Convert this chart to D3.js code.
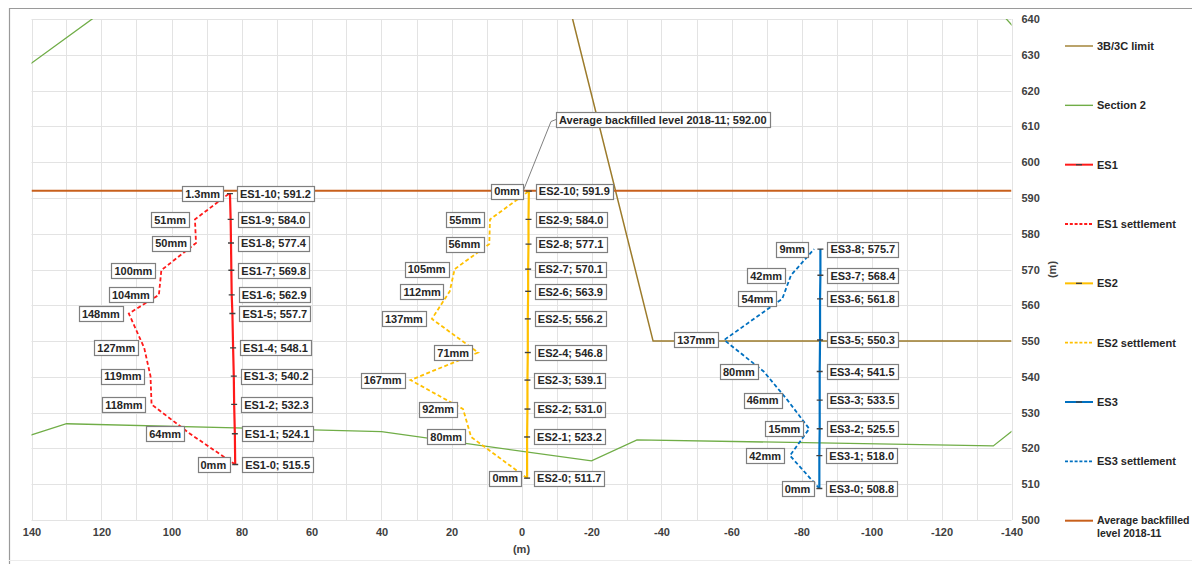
<!DOCTYPE html>
<html><head><meta charset="utf-8">
<script src="https://cdn.jsdelivr.net/npm/d3@7"></script>
<style>
body{margin:0;background:#fff;}
svg text{font-family:"Liberation Sans",Arial,sans-serif;font-weight:bold;}
</style></head><body>
<svg id="chart" width="1192" height="564"></svg>
<script>
// Extensometer ES1: node elevations (m), horizontal positions (m), settlements (mm)
const es1Elev = [515.5, 524.1, 532.3, 540.2, 548.1, 557.7, 562.9, 569.8, 577.4, 584.0, 591.2];
const es1X = [81.8, 81.9, 82.1, 82.2, 82.4, 82.6, 82.8, 82.9, 83.0, 83.1, 83.3];
const es1Settle = [0, 64, 118, 119, 127, 148, 104, 100, 50, 51, 1.3];

// Extensometer ES2
const es2Elev = [511.7, 523.2, 531.0, 539.1, 546.8, 556.2, 563.9, 570.1, 577.1, 584.0, 591.9];
const es2X = [-1.6, -1.6, -1.7, -1.7, -1.8, -1.8, -1.9, -1.9, -2.0, -2.0, -2.1];
const es2Settle = [0, 80, 92, 167, 71, 137, 112, 105, 56, 55, 0];

// Extensometer ES3
const es3Elev = [508.8, 518.0, 525.5, 533.5, 541.5, 550.3, 561.8, 568.4, 575.7];
const es3X = [-85.1, -85.1, -85.2, -85.2, -85.2, -85.3, -85.3, -85.4, -85.4];
const es3Settle = [0, 42, 15, 46, 80, 137, 54, 42, 9];

// Section profiles [x (m), elevation (m)]
const limit3B3C = [[-14.6, 640], [-37.6, 550], [-140, 550]];
const section2 = [[119, 642.6], [140.4, 627.4], [146, 623], [146, 521.5], [140, 523.8], [130, 526.9],
  [40, 524.7], [-20, 516.5], [-33, 522.4], [-134.8, 520.7], [-140, 524.7], [-146, 529],
  [-146, 632], [-136, 642.7]];
const backfillLevel = 592.0;
const backfillLabelX = -0.5;

// Axis ticks
const xTicks = [140, 120, 100, 80, 60, 40, 20, 0, -20, -40, -60, -80, -100, -120, -140];
const yTicks = [500, 510, 520, 530, 540, 550, 560, 570, 580, 590, 600, 610, 620, 630, 640];

// Legend entries
const legendNames = ["3B/3C limit", "Section 2", "ES1", "ES1 settlement", "ES2", "ES2 settlement",
  "ES3", "ES3 settlement", "Average backfilled level 2018-11"];

// settlement drawn as horizontal offset: metres of chart per mm
const settleScale = 0.2;

const C = {
  limit: "#9c7b2b", section: "#70ad47", es1: "#ff1a1a", es2: "#ffc000", es3: "#0070c0",
  backfill: "#c8601c", grid: "#e3e3e3", tick: "#404040", label: "#262626", box: "#7f7f7f"
};

const svg = d3.select("#chart");
const x = d3.scaleLinear().domain([140, -140]).range([31.5, 1011.5]);
const y = d3.scaleLinear().domain([500, 640]).range([520, 19]);

// outer frame
svg.append("path").attr("d", "M9.5,564 V8.5 H1192").attr("fill", "none").attr("stroke", "#9a9a9a").attr("stroke-width", 1.2);
svg.append("line").attr("x1", 9).attr("x2", 1192).attr("y1", 560.5).attr("y2", 560.5).attr("stroke", "#ececec");

svg.append("clipPath").attr("id", "plot").append("rect")
  .attr("x", x(140)).attr("y", y(640)).attr("width", x(-140) - x(140)).attr("height", y(500) - y(640));

// grid
const grid = svg.append("g");
grid.selectAll("line.v").data(d3.range(-140, 141, 10)).join("line")
  .attr("x1", d => Math.round(x(d)) + 0.5).attr("x2", d => Math.round(x(d)) + 0.5)
  .attr("y1", y(640)).attr("y2", y(500)).attr("stroke", C.grid);
grid.selectAll("line.h").data(yTicks).join("line")
  .attr("y1", d => Math.round(y(d)) + 0.5).attr("y2", d => Math.round(y(d)) + 0.5)
  .attr("x1", x(140)).attr("x2", x(-140)).attr("stroke", C.grid);

// axes
const fmt = d => String(d);
const xAxis = d3.axisBottom(x).tickValues(xTicks).tickFormat(fmt).tickSize(0).tickPadding(8);
const gx = svg.append("g").attr("transform", `translate(0,${y(500)})`).call(xAxis);
gx.select(".domain").remove();
gx.selectAll("text").attr("font-size", 11).attr("fill", C.tick).attr("font-family", "Liberation Sans, Arial, sans-serif").attr("font-weight", "bold");
svg.append("text").attr("x", x(0)).attr("y", 553).attr("text-anchor", "middle")
  .attr("font-size", 11).attr("fill", C.tick).text("(m)");

const yAxis = d3.axisRight(y).tickValues(yTicks).tickFormat(fmt).tickSize(0).tickPadding(10);
const gy = svg.append("g").attr("transform", `translate(${x(-140)},0)`).call(yAxis);
gy.select(".domain").remove();
gy.selectAll("text").attr("font-size", 11).attr("fill", C.tick).attr("font-family", "Liberation Sans, Arial, sans-serif").attr("font-weight", "bold");
svg.append("text").attr("transform", `translate(1056,${(y(500) + y(640)) / 2}) rotate(-90)`)
  .attr("text-anchor", "middle").attr("font-size", 11).attr("fill", C.tick).text("(m)");

const line = d3.line().x(d => x(d[0])).y(d => y(d[1]));
const plot = svg.append("g").attr("clip-path", "url(#plot)");

plot.append("path").attr("d", line(section2)).attr("fill", "none").attr("stroke", C.section).attr("stroke-width", 1.3);
plot.append("path").attr("d", line(limit3B3C)).attr("fill", "none").attr("stroke", C.limit).attr("stroke-width", 1.5);
plot.append("path").attr("d", line([[140, backfillLevel], [-140, backfillLevel]]))
  .attr("fill", "none").attr("stroke", C.backfill).attr("stroke-width", 2);

// boxed bold text label
function boxLabel(g, px, py, txt, anchor) {
  const rect = g.append("rect");
  const t = g.append("text").attr("font-size", 11).attr("fill", C.label).attr("dy", "0.35em").text(txt);
  const w = t.node().getComputedTextLength();
  const padX = 3, h = 15;
  const left = anchor === "end" ? px - w - 2 * padX : px;
  rect.attr("x", Math.round(left) + 0.5).attr("y", Math.round(py - h / 2) + 0.5)
    .attr("width", Math.round(w + 2 * padX)).attr("height", h)
    .attr("fill", "#fff").attr("stroke", C.box).attr("stroke-width", 1.2);
  t.attr("x", left + padX).attr("y", py + 0.5);
}

const labels = svg.append("g");

function drawES(name, elev, xs, settle, color) {
  const nodes = elev.map((e, i) => [xs[i], e]);
  const settlePts = elev.map((e, i) => [xs[i] + settle[i] * settleScale, e]);
  plot.append("path").attr("d", line(settlePts)).attr("fill", "none").attr("stroke", color)
    .attr("stroke-width", 1.8).attr("stroke-dasharray", "4,2.5");
  plot.append("path").attr("d", line(nodes)).attr("fill", "none").attr("stroke", color).attr("stroke-width", 2.2);
  plot.selectAll(null).data(nodes).join("line")
    .attr("x1", d => x(d[0]) - 3).attr("x2", d => x(d[0]) + 3)
    .attr("y1", d => y(d[1])).attr("y2", d => y(d[1]))
    .attr("stroke", "#404040").attr("stroke-width", 1.4);
  nodes.forEach((d, i) => {
    boxLabel(labels.append("g"), x(d[0]) + 7, y(d[1]), `${name}-${i}; ${d[1].toFixed(1)}`, "start");
  });
  settlePts.forEach((d, i) => {
    boxLabel(labels.append("g"), x(d[0]) - 6, y(d[1]), `${settle[i]}mm`, "end");
  });
}

drawES("ES1", es1Elev, es1X, es1Settle, C.es1);
drawES("ES2", es2Elev, es2X, es2Settle, C.es2);
drawES("ES3", es3Elev, es3X, es3Settle, C.es3);

// backfill data label with leader line
{
  const g = labels.append("g");
  const bx = 556, by = 119.5;
  g.append("path")
    .attr("d", `M${x(backfillLabelX)},${y(backfillLevel)} L${bx - 5},${by + 2} L${bx},${by}`)
    .attr("fill", "none").attr("stroke", "#7f7f7f").attr("stroke-width", 1);
  boxLabel(g, bx, by, `Average backfilled level 2018-11; ${backfillLevel.toFixed(2)}`, "start");
}

// legend
const legend = svg.append("g");
const legendColors = [C.limit, C.section, C.es1, C.es1, C.es2, C.es2, C.es3, C.es3, C.backfill];
const legendDash = [false, false, false, true, false, true, false, true, false];
const legendMarker = [false, false, true, false, true, false, true, false, false];
const legendY = d3.scalePoint().domain(d3.range(legendNames.length)).range([46, 520.7]);
legendNames.forEach((n, i) => {
  const ly = legendY(i);
  legend.append("line").attr("x1", 1065).attr("x2", 1093).attr("y1", ly).attr("y2", ly)
    .attr("stroke", legendColors[i]).attr("stroke-width", legendDash[i] ? 1.8 : (i < 2 ? 1.4 : 2))
    .attr("stroke-dasharray", legendDash[i] ? "3,1.8" : null);
  if (legendMarker[i]) legend.append("line").attr("x1", 1076).attr("x2", 1082).attr("y1", ly).attr("y2", ly)
    .attr("stroke", "#404040").attr("stroke-width", 1.4);
  const t = legend.append("text").attr("x", 1097).attr("y", ly).attr("dy", "0.35em")
    .attr("font-size", 11).attr("fill", C.label);
  if (i === legendNames.length - 1) {
    // wrapped over two lines, kept inside the right edge
    t.attr("font-size", 10.5);
    t.append("tspan").attr("x", 1097).text("Average backfilled");
    t.append("tspan").attr("x", 1097).attr("dy", "1.2em").text("level 2018-11");
  } else t.text(n);
});
</script>
</body></html>
